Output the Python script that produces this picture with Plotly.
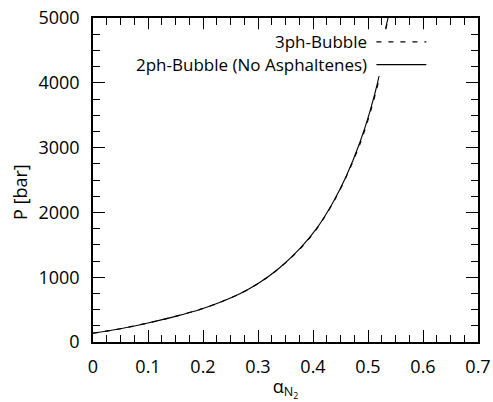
import plotly.graph_objects as go

# data
x_2ph = [0.0, 0.05, 0.1, 0.15, 0.2, 0.23, 0.267, 0.303, 0.34, 0.376, 0.406, 0.436, 0.461, 0.485, 0.503, 0.520, 0.533, 0.538]
p_2ph = [136, 205, 293, 395, 518, 610, 745, 918, 1150, 1440, 1745, 2150, 2570, 3074, 3545, 4102, 4873, 5050]
x_3ph = [0.0, 0.05, 0.1, 0.15, 0.2, 0.23, 0.267, 0.303, 0.34, 0.376, 0.406, 0.436, 0.461, 0.486, 0.504, 0.521, 0.5335, 0.5385]
p_3ph = [136, 205, 293, 395, 518, 610, 743, 915, 1146, 1434, 1737, 2140, 2560, 3070, 3540, 4095, 4870, 5050]

legend_names = ["3ph-Bubble", "2ph-Bubble (No Asphaltenes)"]
x_ticks = [0, 0.1, 0.2, 0.3, 0.4, 0.5, 0.6, 0.7]
y_ticks = [0, 1000, 2000, 3000, 4000, 5000]

FONT = "Open Sans"

fig = go.Figure()
fig.add_trace(go.Scatter(x=x_3ph, y=p_3ph, mode="lines", line=dict(color="black", width=1.2, dash="5px,7px", shape="spline", smoothing=0.8), showlegend=False))
fig.add_trace(go.Scatter(x=x_2ph, y=p_2ph, mode="lines", line=dict(color="black", width=1.1, shape="spline", smoothing=0.8), showlegend=False))

# opaque key (gnuplot style)
fig.add_shape(type="rect", xref="paper", yref="paper", x0=0.1, x1=0.87, y0=0.82, y1=0.965,
              fillcolor="white", line=dict(width=0), layer="above")
key_y = [4633, 4282]
key_dash = ["5px,7px", "solid"]
for name, ky, dsh in zip(legend_names, key_y, key_dash):
    fig.add_annotation(x=0.502, y=ky, text=name, showarrow=False, xanchor="right", yanchor="middle",
                       font=dict(family=FONT, size=17, color="black"))
    fig.add_shape(type="line", x0=0.5153, x1=0.606, y0=ky, y1=ky, line=dict(color="black", width=1.2, dash=dsh), layer="above")

# y-axis title
fig.add_annotation(xref="paper", yref="paper", x=0, y=0.5, xshift=-73, yshift=-12, text="P [bar]",
                   textangle=-90, showarrow=False, xanchor="center", yanchor="middle",
                   font=dict(family=FONT, size=18, color="black"))

axis_common = dict(showgrid=False, zeroline=False, showline=True, linecolor="black", linewidth=1.5,
                   mirror="ticks", ticks="inside", ticklen=12, tickwidth=1.2, tickcolor="black",
                   automargin=False, tickfont=dict(family=FONT, size=18, color="black"))
fig.update_xaxes(range=[0, 0.7], tickvals=x_ticks, ticktext=[("%g" % v) for v in x_ticks],
                 minor=dict(dtick=0.025, ticklen=7, tickwidth=1.2, tickcolor="black", ticks="inside"),
                 ticklabelstandoff=8,
                 title=dict(text="α<sub>N<sub>2</sub></sub>", font=dict(family=FONT, size=18, color="black")),
                 **axis_common)
fig.update_yaxes(range=[0, 5000], tickvals=y_ticks, ticktext=[str(v) for v in y_ticks],
                 minor=dict(dtick=250, ticklen=7, tickwidth=1.2, tickcolor="black", ticks="inside"),
                 ticklabelstandoff=8,
                 **axis_common)
fig.update_layout(width=493, height=402, margin=dict(l=93, r=15, t=18, b=60),
                  paper_bgcolor="white", plot_bgcolor="white", showlegend=False)
fig.write_html("out.html")
